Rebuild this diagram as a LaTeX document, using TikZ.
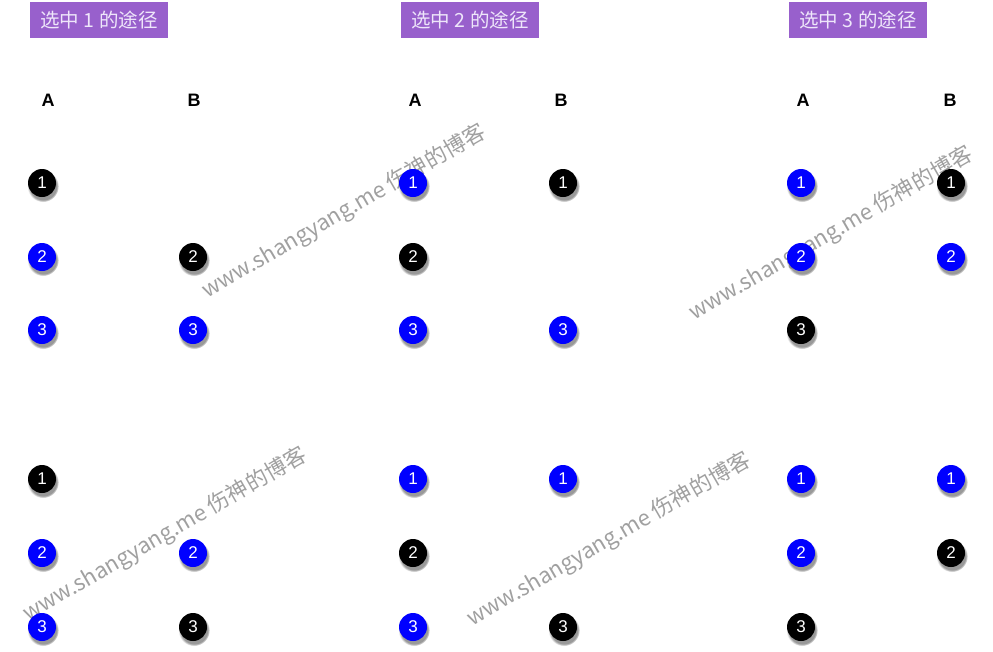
\documentclass[tikz,border=0pt]{standalone}
\usepackage{fontspec}
\setmainfont{Liberation Sans}
\newfontfamily\cjk{Noto Sans CJK SC}
\usepackage{tikz}
\usetikzlibrary{shapes,positioning,shadows,fadings}
\usepackage{xcolor}
\definecolor{lblpurple}{RGB}{152,96,204}
\definecolor{lbltext}{RGB}{238,230,250}
\definecolor{wmgray}{RGB}{160,160,160}
\tikzset{
ballnode/.style = {circle, inner sep=0pt, minimum size=28pt, text=white,
font=\fontsize{17}{17}\selectfont,
circular drop shadow={shadow xshift=1pt, shadow yshift=-3pt, shadow scale=1.12, opacity=0.8}},
ball_n/.style = {ballnode, fill=black},% noeud noir
ball_b/.style = {ballnode, fill=blue},% noeud bleu
colhead/.style = {font=\fontsize{18}{18}\selectfont\bfseries},% A / B
pathlbl/.style = {fill=lblpurple, text=lbltext, minimum width=138pt, minimum height=36pt,
inner sep=0pt, font=\cjk\fontsize{19.5}{19.5}\selectfont},% titre
wmark/.style = {rotate=30, text=wmgray, font=\cjk\fontsize{22}{22}\selectfont}% filigrane
}
\begin{document}
\begin{tikzpicture}[x=1pt,y=-1pt]
	\useasboundingbox (0,0) rectangle (993,651);
	% filigranes
	\node [wmark] (wm_1) at (344,212) {www.shangyang.me 伤神的博客};
	\node [wmark] (wm_2) at (831,234) {www.shangyang.me 伤神的博客};
	\node [wmark] (wm_3) at (165,535) {www.shangyang.me 伤神的博客};
	\node [wmark] (wm_4) at (609,540) {www.shangyang.me 伤神的博客};
	% titres
	\node [pathlbl] (lbl_1) at (99,20) {选中 1 的途径};
	\node [pathlbl] (lbl_2) at (470,20) {选中 2 的途径};
	\node [pathlbl] (lbl_3) at (858,20) {选中 3 的途径};
	% en-tetes
	\node [colhead] (ha_1) at (48,100) {A};
	\node [colhead] (hb_1) at (194,100) {B};
	\node [colhead] (ha_2) at (415,100) {A};
	\node [colhead] (hb_2) at (561,100) {B};
	\node [colhead] (ha_3) at (803,100) {A};
	\node [colhead] (hb_3) at (950,100) {B};
	% chemin 1
	\node [ball_n] (a1_1) at (42,183) {1};
	\node [ball_b] (a1_2) at (42,257) {2};
	\node [ball_b] (a1_3) at (42,330) {3};
	\node [ball_n] (b1_2) at (193,257) {2};
	\node [ball_b] (b1_3) at (193,330) {3};
	\node [ball_n] (c1_1) at (42,479) {1};
	\node [ball_b] (c1_2) at (42,553) {2};
	\node [ball_b] (c1_3) at (42,627) {3};
	\node [ball_b] (d1_2) at (193,553) {2};
	\node [ball_n] (d1_3) at (193,627) {3};
	% chemin 2
	\node [ball_b] (a2_1) at (413,183) {1};
	\node [ball_n] (a2_2) at (413,257) {2};
	\node [ball_b] (a2_3) at (413,330) {3};
	\node [ball_n] (b2_1) at (563,183) {1};
	\node [ball_b] (b2_3) at (563,330) {3};
	\node [ball_b] (c2_1) at (413,479) {1};
	\node [ball_n] (c2_2) at (413,553) {2};
	\node [ball_b] (c2_3) at (413,627) {3};
	\node [ball_b] (d2_1) at (563,479) {1};
	\node [ball_n] (d2_3) at (563,627) {3};
	% chemin 3
	\node [ball_b] (a3_1) at (801,183) {1};
	\node [ball_b] (a3_2) at (801,257) {2};
	\node [ball_n] (a3_3) at (801,330) {3};
	\node [ball_n] (b3_1) at (951,183) {1};
	\node [ball_b] (b3_2) at (951,257) {2};
	\node [ball_b] (c3_1) at (801,479) {1};
	\node [ball_b] (c3_2) at (801,553) {2};
	\node [ball_n] (c3_3) at (801,627) {3};
	\node [ball_b] (d3_1) at (951,479) {1};
	\node [ball_n] (d3_2) at (951,553) {2};
\end{tikzpicture}
\end{document}
